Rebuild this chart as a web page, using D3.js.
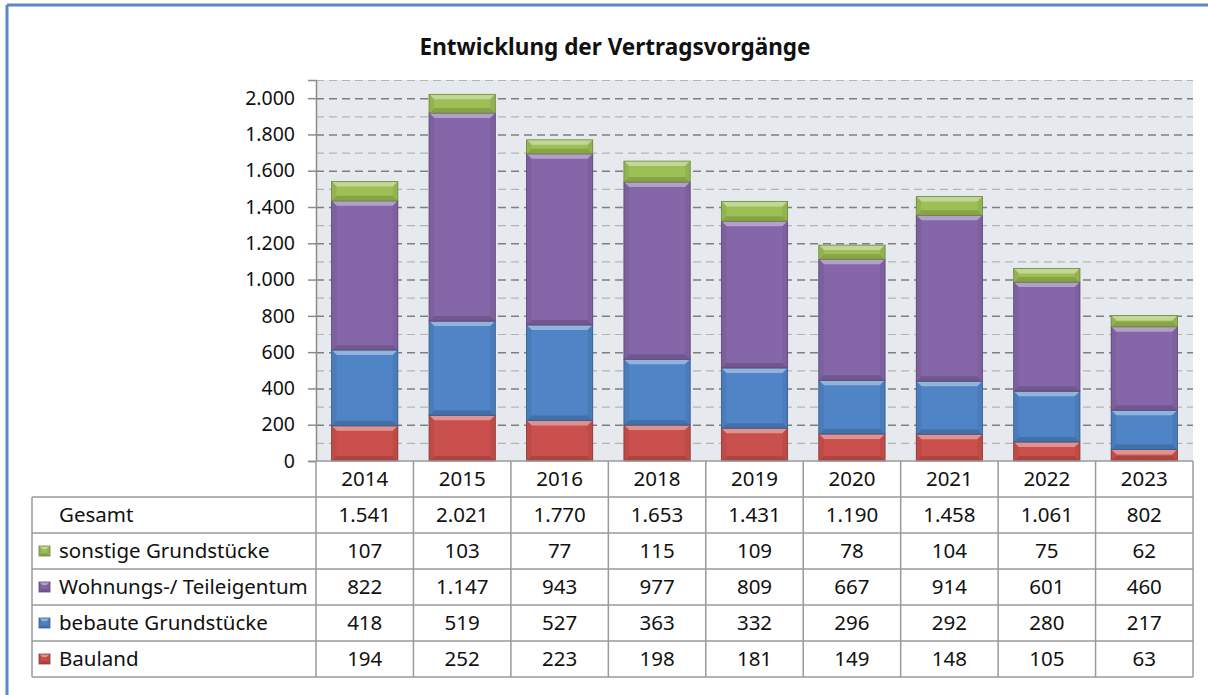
<!DOCTYPE html>
<html>
<head>
<meta charset="utf-8">
<script src="https://cdn.jsdelivr.net/npm/d3@7"></script>
<style>
  body { margin: 0; background: #fff; }
  svg text { font-family: "Noto Sans", "Open Sans", sans-serif; fill: #111; }
</style>
</head>
<body>
<div id="chart"></div>
<script>
// data
var years = ["2014", "2015", "2016", "2018", "2019", "2020", "2021", "2022", "2023"];
var bauland   = [194, 252, 223, 198, 181, 149, 148, 105, 63];
var bebaut    = [418, 519, 527, 363, 332, 296, 292, 280, 217];
var wohnung   = [822, 1147, 943, 977, 809, 667, 914, 601, 460];
var sonstige  = [107, 103, 77, 115, 109, 78, 104, 75, 62];
var gesamt    = [1541, 2021, 1770, 1653, 1431, 1190, 1458, 1061, 802];
var seriesNames = ["Bauland", "bebaute Grundstücke", "Wohnungs-/ Teileigentum", "sonstige Grundstücke"];
var seriesColors = ["#c9504d", "#4f84c6", "#8566a8", "#9dbf55"];
var yTicks = [0, 200, 400, 600, 800, 1000, 1200, 1400, 1600, 1800, 2000];

var W = 1208, H = 695;
var plotLeft = 316, plotRight = 1193, plotTop = 80, plotBottom = 461;
var rowH = 36, tableLeft = 32;
var fontSize = "20.5px";

var de = d3.formatLocale({decimal: ",", thousands: ".", grouping: [3], currency: ["", " €"]});
var fmt = de.format(",d");

var svg = d3.select("#chart").append("svg")
    .attr("width", W)
    .attr("height", H);

// outer blue frame (only top and left visible)
svg.append("line").attr("x1", 7).attr("x2", W).attr("y1", 5).attr("y2", 5)
  .attr("stroke", "#5a87c5").attr("stroke-width", 3);
svg.append("line").attr("x1", 7).attr("x2", 7).attr("y1", 5).attr("y2", H)
  .attr("stroke", "#5a87c5").attr("stroke-width", 3);

// title
svg.append("text")
  .attr("x", 615).attr("y", 55)
  .attr("text-anchor", "middle")
  .style("font-size", "22.5px").style("font-weight", "bold")
  .text("Entwicklung der Vertragsvorgänge");

var x = d3.scaleBand()
  .domain(years)
  .range([plotLeft, plotRight])
  .paddingInner(0.32)
  .paddingOuter(0.16);

var y = d3.scaleLinear()
  .domain([0, 2100])
  .range([plotBottom, plotTop]);

// plot background
svg.append("rect")
  .attr("x", plotLeft).attr("y", plotTop)
  .attr("width", plotRight - plotLeft).attr("height", plotBottom - plotTop)
  .attr("fill", "#e6eaee");

// gridlines: minor every 100, major every 200
var gridVals = d3.range(100, 2101, 100);
svg.append("g").selectAll("line")
  .data(gridVals)
  .enter().append("line")
    .attr("x1", plotLeft).attr("x2", plotRight)
    .attr("y1", function(d) { return y(d) + 0.5; })
    .attr("y2", function(d) { return y(d) + 0.5; })
    .attr("stroke", function(d) { return d % 200 === 0 ? "#7f7f7f" : "#b4b4b4"; })
    .attr("stroke-width", function(d) { return d % 200 === 0 ? 1.5 : 1.2; })
    .attr("stroke-dasharray", "8,5");

// y axis
var yAxis = svg.append("g")
  .attr("transform", "translate(" + plotLeft + ",0)")
  .call(d3.axisLeft(y).tickValues(yTicks).tickFormat(fmt).tickSize(8).tickPadding(13));
yAxis.select(".domain").attr("stroke", "#8c8c8c").attr("stroke-width", 1.5);
yAxis.selectAll(".tick line").attr("stroke", "#8c8c8c").attr("stroke-width", 1.5);
yAxis.selectAll(".tick text").style("font-size", "19.5px").attr("fill", "#111")
  .style("font-family", "'Noto Sans', 'Open Sans', sans-serif");

// stacked data
var rows = years.map(function(yr, i) {
  return {year: yr, b0: bauland[i], b1: bebaut[i], b2: wohnung[i], b3: sonstige[i]};
});
var stack = d3.stack().keys(["b0", "b1", "b2", "b3"]);
var stacked = stack(rows);

// bevelled rectangle like the office "bevel" style
function bevel(g, x0, y0, w, h, color, size) {
  var c = d3.color(color);
  var b = Math.min(size || 5, h / 2, w / 2);
  g.append("rect").attr("x", x0).attr("y", y0).attr("width", w).attr("height", h).attr("fill", c);
  var light = d3.interpolateRgb(c, "#ffffff")(0.38);
  var dark = c.darker(0.45);
  var side = c.darker(0.18);
  var x1 = x0 + w, y1 = y0 + h;
  g.append("polygon").attr("fill", light)
    .attr("points", [[x0, y0], [x1, y0], [x1 - b, y0 + b], [x0 + b, y0 + b]].join(" "));
  g.append("polygon").attr("fill", dark)
    .attr("points", [[x0, y1], [x1, y1], [x1 - b, y1 - b], [x0 + b, y1 - b]].join(" "));
  g.append("polygon").attr("fill", side)
    .attr("points", [[x0, y0], [x0 + b, y0 + b], [x0 + b, y1 - b], [x0, y1]].join(" "));
  g.append("polygon").attr("fill", side)
    .attr("points", [[x1, y0], [x1 - b, y0 + b], [x1 - b, y1 - b], [x1, y1]].join(" "));
  g.append("rect").attr("x", x0).attr("y", y0).attr("width", w).attr("height", h)
    .attr("fill", "none").attr("stroke", c.darker(1)).attr("stroke-width", 0.8);
}

var barsG = svg.append("g");
stacked.forEach(function(layer, li) {
  layer.forEach(function(d) {
    var g = barsG.append("g");
    bevel(g, x(d.data.year), y(d[1]), x.bandwidth(), y(d[0]) - y(d[1]), seriesColors[li], 5);
  });
});

// data table
var colEdges = years.map(function(yr) { return x(yr) - x.step() * x.paddingInner() / 2; });
colEdges.push(plotRight);
var tg = svg.append("g");
var lineColor = "#9a9a9a";

// horizontal lines
tg.append("line").attr("x1", plotLeft).attr("x2", plotRight)
  .attr("y1", plotBottom).attr("y2", plotBottom).attr("stroke", lineColor).attr("stroke-width", 1.5);
for (var r = 1; r <= 6; r++) {
  tg.append("line").attr("x1", tableLeft).attr("x2", plotRight)
    .attr("y1", plotBottom + r * rowH).attr("y2", plotBottom + r * rowH)
    .attr("stroke", lineColor).attr("stroke-width", 1.5);
}
// vertical lines
colEdges.forEach(function(xe) {
  tg.append("line").attr("x1", xe).attr("x2", xe)
    .attr("y1", plotBottom).attr("y2", plotBottom + 6 * rowH)
    .attr("stroke", lineColor).attr("stroke-width", 1.5);
});
tg.append("line").attr("x1", tableLeft).attr("x2", tableLeft)
  .attr("y1", plotBottom + rowH).attr("y2", plotBottom + 6 * rowH)
  .attr("stroke", lineColor).attr("stroke-width", 1.5);

// year header
tg.selectAll("text.year")
  .data(years)
  .enter().append("text")
    .attr("class", "year")
    .attr("x", function(d) { return x(d) + x.bandwidth() / 2; })
    .attr("y", plotBottom + rowH / 2 + 7)
    .attr("text-anchor", "middle")
    .style("font-size", fontSize)
    .text(function(d) { return d; });

var tableRows = [
  {label: "Gesamt", values: gesamt, color: null},
  {label: seriesNames[3], values: sonstige, color: seriesColors[3]},
  {label: seriesNames[2], values: wohnung, color: seriesColors[2]},
  {label: seriesNames[1], values: bebaut, color: seriesColors[1]},
  {label: seriesNames[0], values: bauland, color: seriesColors[0]}
];

tableRows.forEach(function(row, ri) {
  var cy = plotBottom + rowH * (ri + 1) + rowH / 2;
  tg.append("text")
    .attr("x", 59).attr("y", cy + 7)
    .style("font-size", fontSize)
    .text(row.label);
  if (row.color) {
    bevel(tg.append("g"), 39, cy - 5, 11, 10, row.color, 3);
  }
  tg.selectAll(null)
    .data(row.values)
    .enter().append("text")
      .attr("x", function(d, i) { return x(years[i]) + x.bandwidth() / 2; })
      .attr("y", cy + 7)
      .attr("text-anchor", "middle")
      .style("font-size", fontSize)
      .text(function(d) { return fmt(d); });
});
</script>
</body>
</html>
